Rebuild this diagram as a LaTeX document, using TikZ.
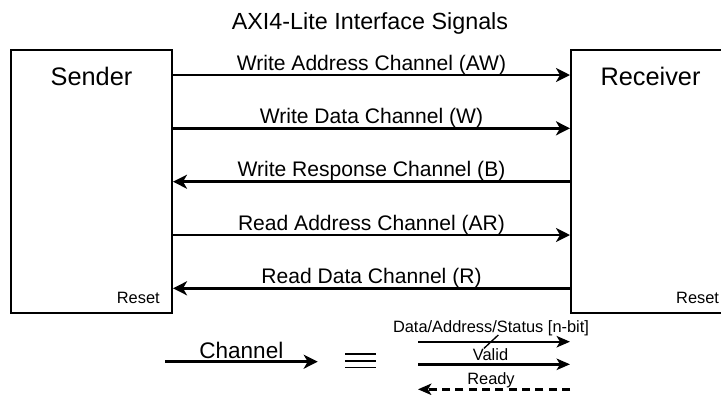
\documentclass[tikz,border=0pt]{standalone}
\usepackage{fontspec}
\setmainfont{Liberation Sans}
\usepackage{tikz}
\usetikzlibrary{arrows.meta}
\usetikzlibrary{positioning}
\tikzset{
	unit/.style={draw=black, line width=1.5pt, inner sep=0pt},
	unitname/.style={anchor=base, font=\fontsize{19}{22}\selectfont},
	resetlabel/.style={anchor=base east, inner sep=0pt, font=\fontsize{12.3}{14}\selectfont},
	chan/.style={draw=black, line width=2pt,
		-{Stealth[length=10.5pt,width=10.5pt,inset=3pt]}},
	chanlabel/.style={anchor=base, yshift=3.75pt, font=\fontsize{15.8}{18}\selectfont},
	sig/.style={draw=black, line width=1.8pt,
		-{Stealth[length=10pt,width=8.5pt,inset=2.5pt]}},
	siglabel/.style={anchor=base, font=\fontsize{12.3}{14}\selectfont},
	sigdashed/.style={sig, dash pattern=on 6pt off 4pt},
}
\begin{document}
\begin{tikzpicture}[x=0.75pt, y=-0.75pt]
	\useasboundingbox (0,0) rectangle (721,394);
	\clip (0,0) rectangle (721,394);
	\node[font=\fontsize{17.5}{20}\selectfont, anchor=base] (title) at (370,29) {AXI4-Lite Interface Signals};
	% the two ends
	\node[unit, minimum width=120.75pt, minimum height=197.25pt] (sender) at (91.5,181.5) {};
	\node[unit, minimum width=120pt, minimum height=197.25pt] (receiver) at (651,181.5) {};
	\node[unitname] (sendername) at (91.5,85) {Sender};
	\node[unitname] (receivername) at (650.5,85) {Receiver};
	\node[resetlabel] (senderreset) at (160,303.3) {Reset};
	\node[resetlabel] (receiverreset) at (719.3,303.3) {Reset};
	% channels
	\coordinate (aw) at (371,75);
	\coordinate (w) at (371,128.3);
	\coordinate (b) at (371,181.7);
	\coordinate (ar) at (371,235);
	\coordinate (r) at (371,288.3);
	\draw[chan] (sender.east |- aw) -- node[chanlabel] (awlabel) {Write Address Channel (AW)} (receiver.west |- aw);
	\draw[chan] (sender.east |- w) -- node[chanlabel] (wlabel) {Write Data Channel (W)} (receiver.west |- w);
	\draw[chan] (receiver.west |- b) -- node[chanlabel] (blabel) {Write Response Channel (B)} (sender.east |- b);
	\draw[chan] (sender.east |- ar) -- node[chanlabel] (arlabel) {Read Address Channel (AR)} (receiver.west |- ar);
	\draw[chan] (receiver.west |- r) -- node[chanlabel] (rlabel) {Read Data Channel (R)} (sender.east |- r);
	% legend
	\coordinate (chstart) at (165,361.7);
	\coordinate (chend) at (317.7,361.7);
	\draw[chan] (chstart) -- node[chanlabel, yshift=-1pt, font=\fontsize{16.9}{19}\selectfont] (chword) {Channel} (chend);
	\foreach \y in {354,360.7,367.5}
		\draw[line width=1.2pt] (345,\y) -- (376,\y);
	\coordinate (datastart) at (418,341.7);
	\coordinate (dataend) at (570,341.7);
	\coordinate (validstart) at (418,364.3);
	\coordinate (validend) at (570,364.3);
	\coordinate (readystart) at (570,389.3);
	\coordinate (readyend) at (418,389.3);
	\draw[sig] (datastart) -- (dataend);
	\draw[sig] (validstart) -- (validend);
	\draw[sigdashed] (readystart) -- (readyend);
	\node[siglabel] (datalabel) at (491,332.7) {Data/Address/Status [n-bit]};
	\node[siglabel] (validlabel) at (490.5,360) {Valid};
	\node[siglabel] (readylabel) at (491,384) {Ready};
	\draw[line width=1pt] (484,348.3) -- (498.3,335);
\end{tikzpicture}
\end{document}
